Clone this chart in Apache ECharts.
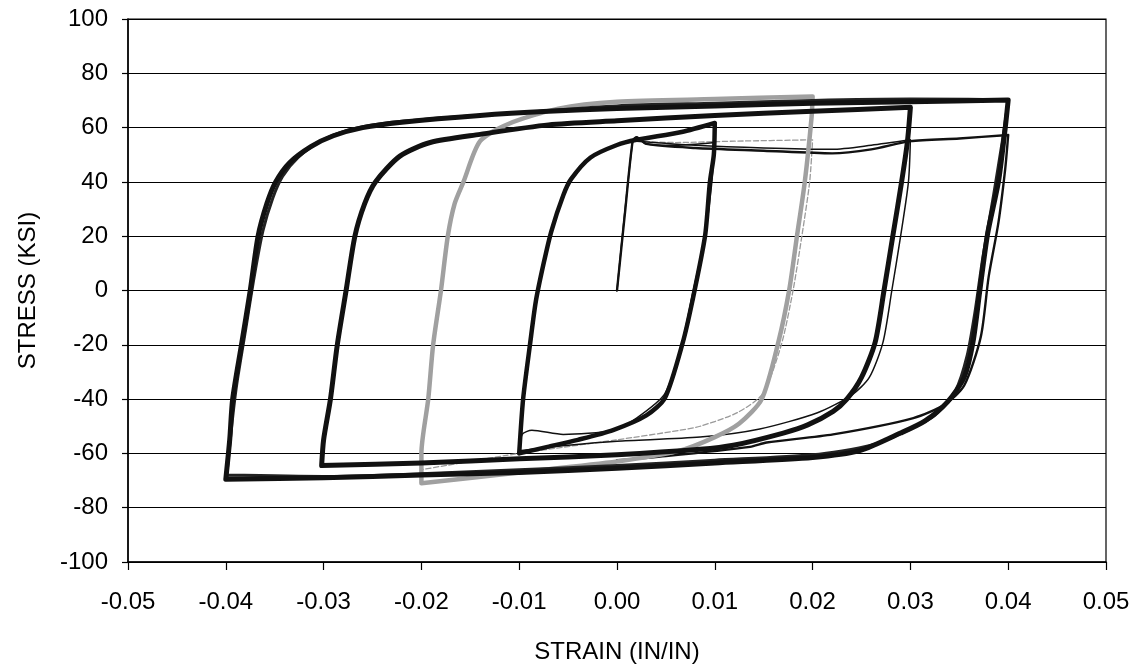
<!DOCTYPE html>
<html>
<head>
<meta charset="utf-8">
<script src="https://cdn.jsdelivr.net/npm/echarts@6/dist/echarts.min.js"></script>
<style>
html,body{margin:0;padding:0;background:#fff;}
#chart{width:1147px;height:669px;}
</style>
</head>
<body>
<div id="chart"></div>
<script>
// ---- data (strain in/in, stress ksi) ----
const xTitle = 'STRAIN (IN/IN)';
const yTitle = 'STRESS (KSI)';

// stabilised loop, +/-0.04 test (black)
const loop04 = [
  [-0.0400,-69.5],[-0.0396,-55],[-0.0393,-40],[-0.0384,-20],[-0.0375,0],[-0.0367,20],
  [-0.0358,32],[-0.0349,40],[-0.0335,47],[-0.0313,53],[-0.0290,57],[-0.0260,60],
  [-0.0220,62],[-0.0140,64.5],[-0.0070,66],[0.0000,67],[0.0100,68],[0.0200,69],
  [0.0300,69.5],[0.0400,70.2],
  [0.0397,60],[0.0390,40],[0.0379,21],[0.0371,0],[0.0364,-19],[0.0355,-32],
  [0.0338,-41],[0.0315,-48],[0.0290,-52.5],[0.0248,-59],[0.0200,-61.5],[0.0100,-63.5],
  [0.0000,-65.5],[-0.0100,-67],[-0.0200,-68],[-0.0300,-69],[-0.0400,-69.5]
];
// another cycle of the same test, slightly offset (forms the wide band)
const loop04b = [
  [-0.0399,-68],[-0.0394,-50],[-0.0389,-35],[-0.0380,-15],[-0.0371,5],[-0.0362,22],
  [-0.0352,34],[-0.0342,42],[-0.0326,49],[-0.0303,55],[-0.0275,59],[-0.0240,61.5],
  [-0.0180,63.5],[-0.0100,65.5],[0.0000,68],[0.0100,69],[0.0200,70],[0.0300,70.5],
  [0.0400,70],
  [0.0394,55],[0.0385,35],[0.0374,12],[0.0366,-8],[0.0358,-24],[0.0346,-37],
  [0.0325,-46],[0.0300,-51],[0.0260,-57],[0.0200,-60.5],[0.0100,-62.5],[0.0000,-64.5],
  [-0.0100,-66],[-0.0200,-67.5],[-0.0300,-68.5],[-0.0399,-68]
];
// stabilised loop, +/-0.03 test (black)
const loop03 = [
  [-0.0302,-64.5],[-0.0300,-55],[-0.0293,-40],[-0.0286,-20],[-0.0277,0],[-0.0268,20],
  [-0.0258,32],[-0.0247,40],[-0.0222,49.5],[-0.0191,54.5],[-0.0140,57.5],[-0.0070,61],
  [0.0000,62.5],[0.0100,64.5],[0.0200,66],[0.0300,67.5],
  [0.0297,55],[0.0291,40],[0.0282,20],[0.0273,0],[0.0264,-19],[0.0250,-32],
  [0.0235,-40],[0.0221,-44.5],[0.0195,-49.5],[0.0170,-52.5],[0.0119,-57],[0.0085,-58.5],
  [0.0000,-60.5],[-0.0100,-62],[-0.0200,-63.5],[-0.0302,-64.5]
];
// stabilised loop, +/-0.02 test (grey)
const loop02 = [
  [-0.0200,-71],[-0.0200,-60],[-0.0193,-40],[-0.0188,-20],[-0.0180,0],[-0.0173,20],
  [-0.0166,32],[-0.0157,40],[-0.0140,55],[-0.0110,61.5],[-0.0060,67],[0.0000,69.5],
  [0.0100,70.5],[0.0200,71.5],
  [0.0199,64],[0.0192,40],[0.0184,20],[0.0176,0],[0.0165,-19],[0.0148,-40],
  [0.0125,-49],[0.0100,-54],[0.0064,-59],[0.0000,-63],[-0.0100,-67],[-0.0200,-71]
];
// stabilised loop, +/-0.01 test (black)
const loop01 = [
  [-0.0100,-60],[-0.0096,-40],[-0.0089,-20],[-0.0083,-4],[-0.0075,10],[-0.0067,22],
  [-0.0055,35],[-0.0047,41],[-0.0027,49],[0.0000,53.6],[0.0020,55.5],[0.0066,58.4],
  [0.0100,61.7],
  [0.0099,50],[0.0095,40],[0.0090,20],[0.0077,-4],[0.0067,-19.5],[0.0049,-39.6],
  [0.0030,-46],[-0.0004,-51.4],[-0.0040,-55],[-0.0071,-57.6],[-0.0100,-60]
];
// first (monotonic) loading and first reversal, +/-0.04 test
const first04 = [
  [0.0000,0],[0.0008,28],[0.0016,55],[0.0020,56.5],[0.0030,54],[0.0080,52.5],
  [0.0150,51.5],[0.0220,50.5],[0.0260,52],[0.0300,55],[0.0350,56],[0.0400,57.3],
  [0.0397,45],[0.0390,25],[0.0380,5],[0.0372,-17],[0.0355,-35],[0.0335,-42],
  [0.0303,-47],[0.0221,-53],[0.0153,-56],[0.0136,-57.6],[0.0050,-61],[0.0000,-62.5]
];
// first loading and first reversal, +/-0.03 test
const first03 = [
  [0.0020,55],[0.0080,53.5],[0.0150,52.5],[0.0220,52],[0.0260,53.5],[0.0300,55.5],
  [0.0298,40],[0.0290,20],[0.0281,0],[0.0272,-19],[0.0258,-32],[0.0240,-38.5],
  [0.0205,-45],[0.0146,-51],[0.0085,-54],[0.0000,-55.5],[-0.0050,-57],[-0.0100,-59]
];
// first loading and first reversal, +/-0.02 test (grey)
const first02 = [
  [0.0020,55],[0.0060,54.5],[0.0120,55],[0.0200,55.5],
  [0.0197,40],[0.0189,20],[0.0180,0],[0.0168,-20],[0.0149,-38],[0.0123,-45],
  [0.0085,-50],[0.0064,-51.5],[0.0000,-55],[-0.0100,-60],[-0.0200,-66]
];
// first loading and first reversal, +/-0.01 test
const first01 = [
  [0.0000,0],[0.0016,55],[0.0020,56.5],[0.0030,54],[0.0060,53.5],[0.0100,54.5],
  [0.0097,40],[0.0090,20],[0.0078,0],[0.0066,-20],[0.0049,-38],[0.0020,-47],
  [-0.0004,-51.5],[-0.0055,-53],[-0.0087,-51.5],[-0.0097,-53],[-0.0100,-60]
];

const FONT = "'Liberation Sans', Arial, sans-serif";
const chart = echarts.init(document.getElementById('chart'), null, {renderer:'canvas'});

function line(name, data, color, width, type, smooth) {
  return {
    name, type:'line', data, showSymbol:false, symbol:'none',
    smooth: smooth === undefined ? 0.25 : smooth,
    lineStyle:{color, width, type: type || 'solid', join:'round', cap:'round'},
    silent:true, animation:false, z: 3
  };
}

chart.setOption({
  animation:false,
  backgroundColor:'#ffffff',
  grid:{left:128, right:41, top:19, bottom:107, show:true, borderColor:'#000', borderWidth:1.2, backgroundColor:'transparent'},
  xAxis:{
    type:'value', min:-0.05, max:0.05, interval:0.01,
    name:xTitle, nameLocation:'middle', nameGap:78,
    nameTextStyle:{color:'#000', fontSize:24, fontFamily:FONT},
    axisLine:{show:true, onZero:false, lineStyle:{color:'#000', width:1.5}},
    axisTick:{show:true, inside:false, length:8, lineStyle:{color:'#000', width:1.2}},
    axisLabel:{color:'#000', fontSize:24, fontFamily:FONT, margin:28,
      formatter:v => v.toFixed(2)},
    splitLine:{show:false}
  },
  yAxis:{
    type:'value', min:-100, max:100, interval:20,
    name:yTitle, nameLocation:'middle', nameGap:88, nameRotate:90,
    nameTextStyle:{color:'#000', fontSize:24, fontFamily:FONT},
    axisLine:{show:true, onZero:false, lineStyle:{color:'#000', width:1.5}},
    axisTick:{show:true, inside:false, length:6, lineStyle:{color:'#000', width:1.2}},
    axisLabel:{color:'#000', fontSize:24, fontFamily:FONT, margin:20},
    splitLine:{show:true, lineStyle:{color:'#000', width:1}}
  },
  series:[
    line('first02', first02, '#9a9a9a', 1.3, 'dashed'),
    line('first03', first03, '#111', 1.5),
    line('first04', first04, '#111', 2.4),
    line('first01', first01, '#111', 1.5),
    line('loop02', loop02, '#a0a0a0', 4.5),
    line('loop04b', loop04b, '#222', 3),
    line('loop04', loop04, '#111', 5),
    line('loop03', loop03, '#111', 5),
    line('loop01', loop01, '#111', 4.5)
  ]
});
</script>
</body>
</html>
